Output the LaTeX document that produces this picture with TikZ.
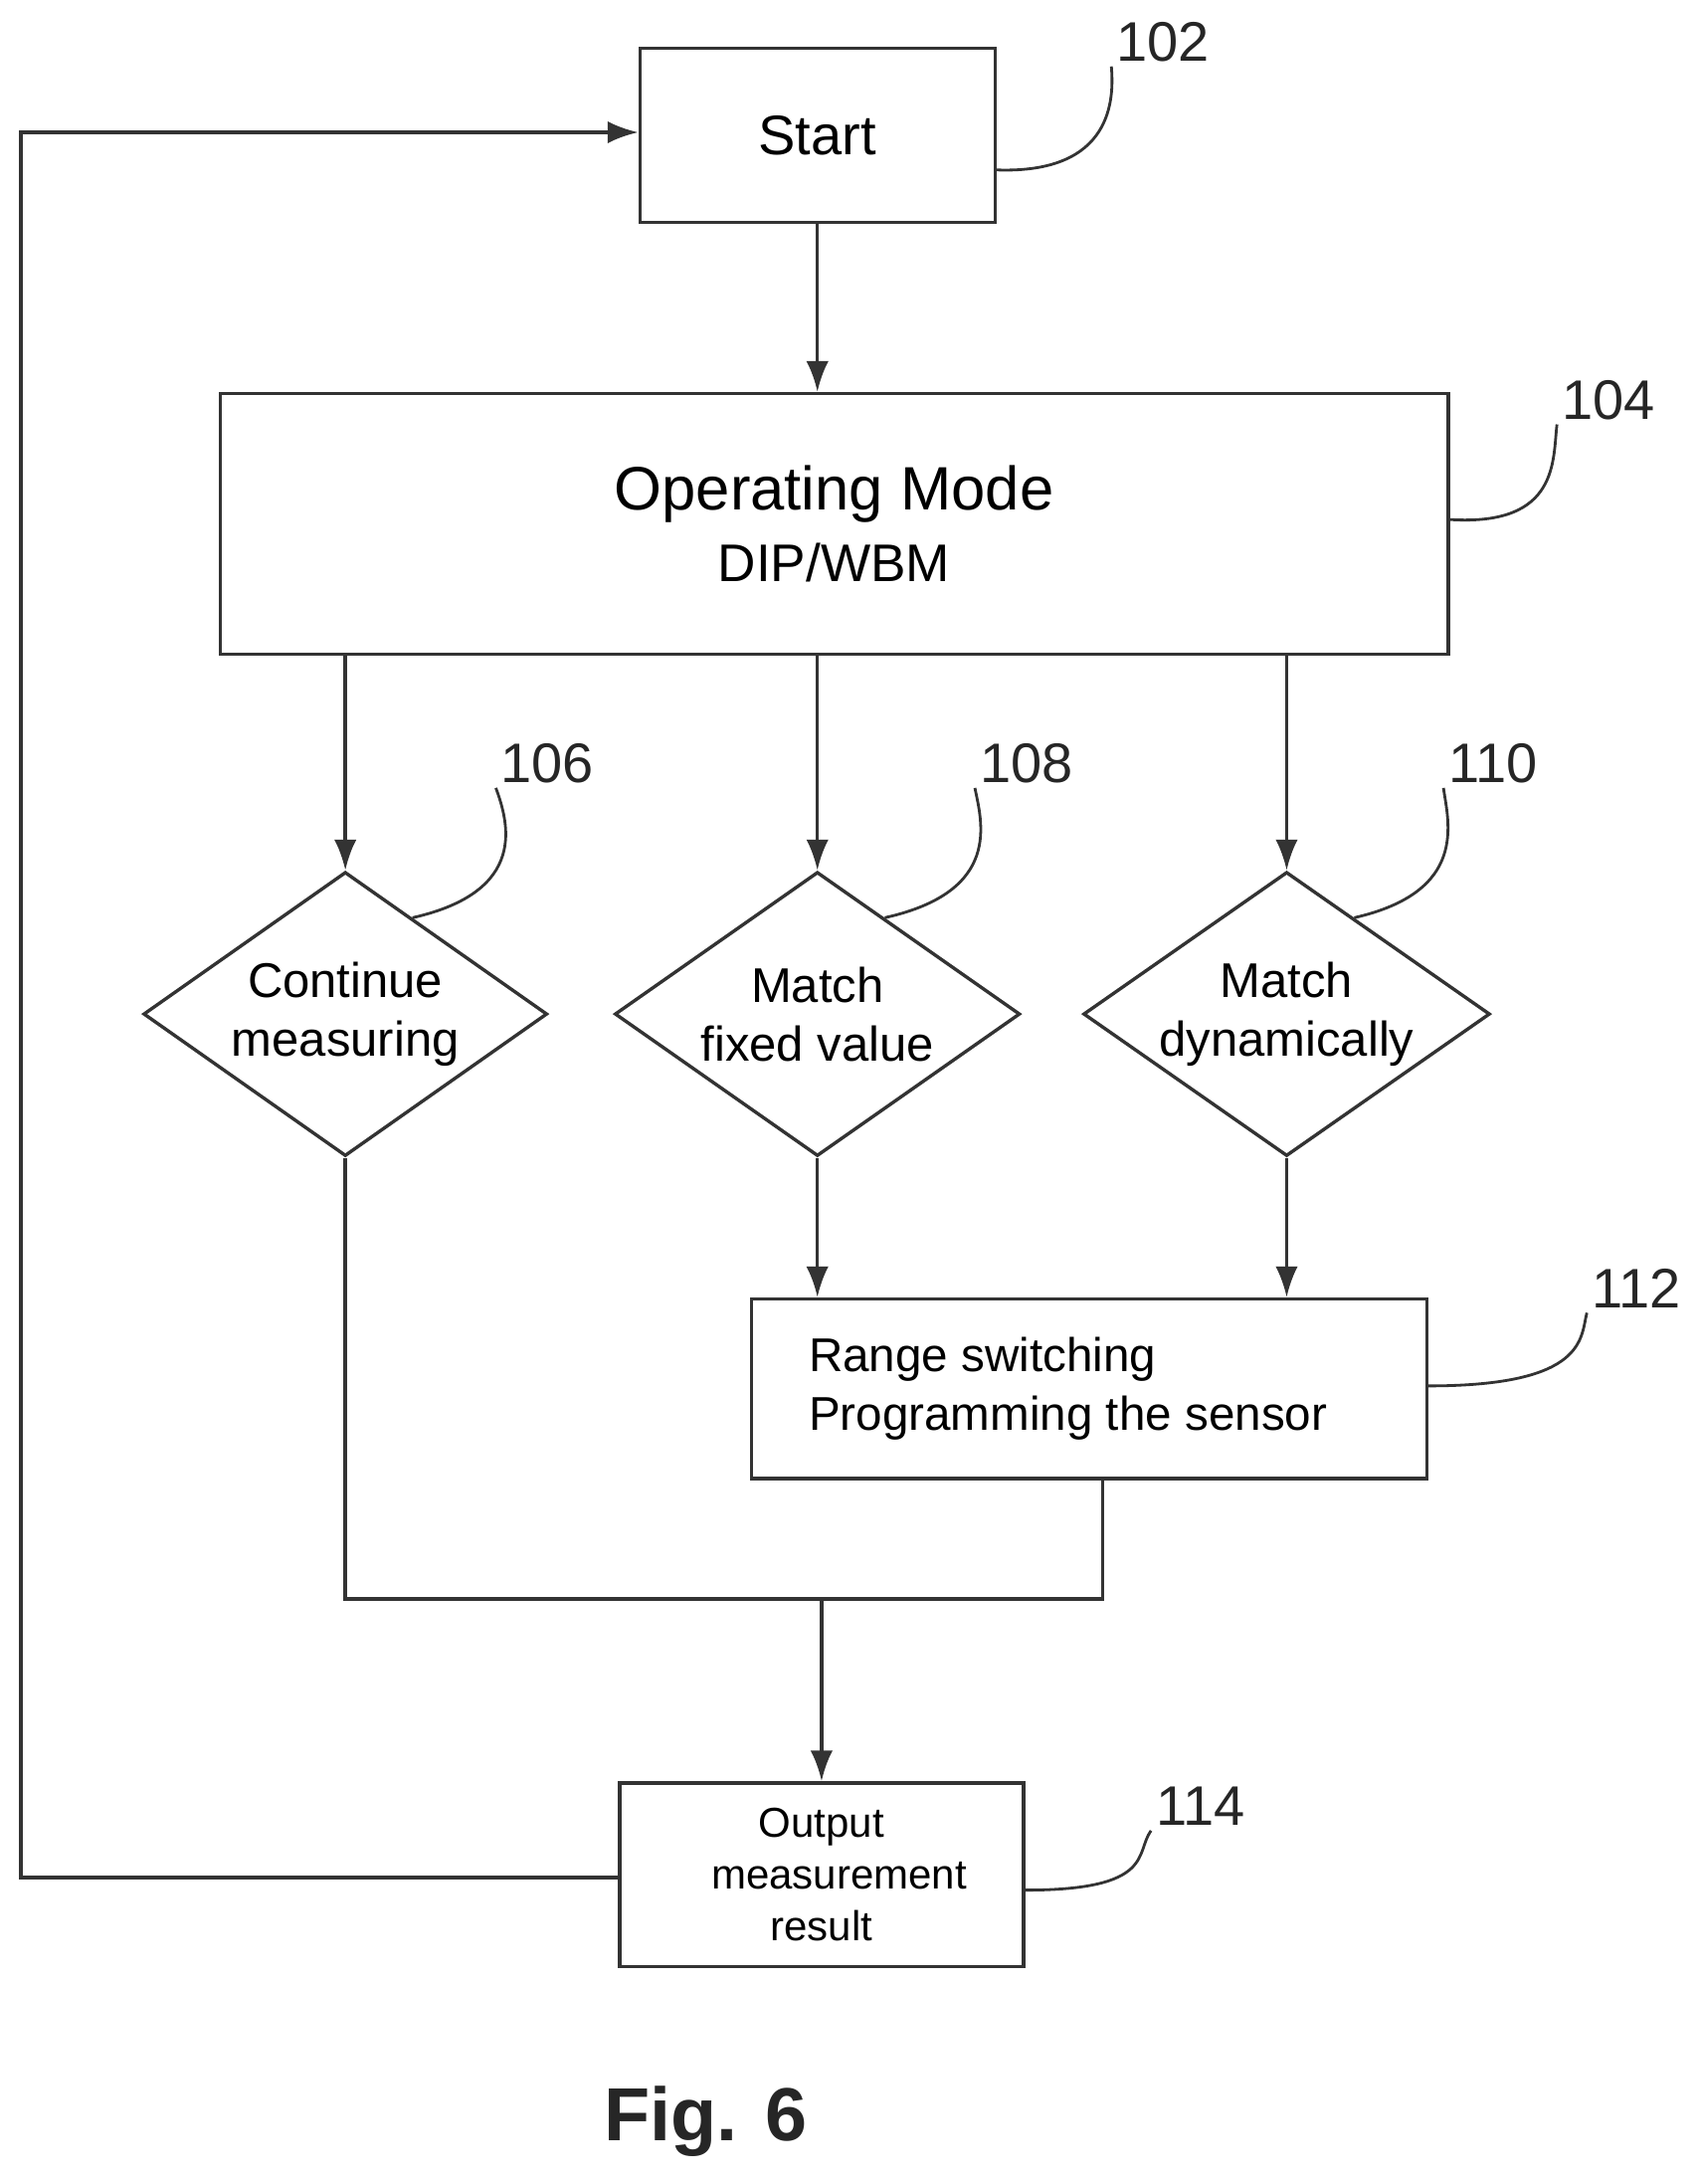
\documentclass[tikz,border=0pt]{standalone}
\usepackage{fontspec}
\setmainfont{Liberation Sans}
\usetikzlibrary{arrows.meta,positioning,shapes.geometric,calc}
\tikzset{
  line/.style={draw=black!80, line width=2.4pt},
  arr/.style={line, -{Latex[length=22pt,width=16pt]}},
  box/.style={line, rectangle, inner sep=0pt, align=center},
  dia/.style={line, diamond, inner sep=0pt, aspect=1.42, align=center},
  ref/.style={font=\fontsize{40}{44}\selectfont, text=black!85},
  lead/.style={draw=black!80, line width=2pt}
}
\begin{document}
\begin{tikzpicture}[x=1pt,y=-1pt]
	\useasboundingbox (0,0) rectangle (1220,1568);
	% boxes
	\node[box, minimum width=255pt, minimum height=125pt, font=\fontsize{40}{44}\selectfont] (start) at (587,97) {Start};
	\node[box, minimum width=882pt, minimum height=187pt, font=\fontsize{44}{52}\selectfont] (mode) at (599,376)
		{Operating Mode\\{\fontsize{38}{44}\selectfont DIP/WBM}};
	\node[dia, minimum width=290pt, minimum height=204pt, font=\fontsize{35}{42}\selectfont] (cont) at (248,728) {Continue\\measuring};
	\node[dia, minimum width=291pt, minimum height=204pt, font=\fontsize{35}{42}\selectfont] (fixed) at (587,728) {Match\\fixed value};
	\node[dia, minimum width=292pt, minimum height=204pt, font=\fontsize{35}{42}\selectfont] (dyn) at (924,728) {Match\\dynamically};
	\node[box, minimum width=485pt, minimum height=129pt, align=left, font=\fontsize{34}{42}\selectfont] (range) at (782,997)
		{Range switching\\Programming the sensor\hspace*{30pt}};
	\node[box, minimum width=290pt, minimum height=132pt, font=\fontsize{30}{37}\selectfont] (out) at (590,1346)
		{Output\\\hspace*{25pt}measurement\\result};
	\node[font=\fontsize{54}{60}\selectfont\bfseries, text=black!85] (fig) at (507,1523) {Fig. 6};
	% reference numerals
	\node[ref] (n102) at (835,30) {102};
	\node[ref] (n104) at (1155,287) {104};
	\node[ref] (n106) at (393,548) {106};
	\node[ref] (n108) at (737,548) {108};
	\node[ref] (n110) at (1072,548) {110};
	\node[ref] (n112) at (1175,925) {112};
	\node[ref] (n114) at (862,1297) {114};
	\draw[lead] (start.east |- 0,122) .. controls (800,125) and (800,70) .. (n102.south west);
	\draw[lead] (mode.east |- 0,373) .. controls (1120,378) and (1115,330) .. (n104.south west);
	\draw[lead] ($(cont.north)!0.33!(cont.east)$) .. controls (380,640) and (365,590) .. (n106.south west);
	\draw[lead] ($(fixed.north)!0.33!(fixed.east)$) .. controls (720,640) and (705,590) .. (n108.south west);
	\draw[lead] ($(dyn.north)!0.33!(dyn.east)$) .. controls (1055,640) and (1040,590) .. (n110.south west);
	\draw[lead] (range.east |- 0,995) .. controls (1140,995) and (1135,960) .. (n112.south west);
	\draw[lead] (out.east |- 0,1357) .. controls (830,1357) and (815,1330) .. (n114.south west);
	% connectors
	\draw[arr] (start.south) -- (start.south |- mode.north);
	\draw[arr] (mode.south -| cont.north) -- (cont.north);
	\draw[arr] (mode.south -| fixed.north) -- (fixed.north);
	\draw[arr] (mode.south -| dyn.north) -- (dyn.north);
	\draw[arr] (fixed.south) -- (fixed.south |- range.north);
	\draw[arr] (dyn.south) -- (dyn.south |- range.north);
	\coordinate (joinl) at (248,1148);
	\coordinate (joinr) at (792,1148);
	\draw[line] (cont.south) -- (joinl) -- (joinr) -- (range.south -| joinr);
	\draw[arr] (out.north |- joinl) -- (out.north);
	\coordinate (backb) at (15,1348);
	\coordinate (backt) at (15,95);
	\draw[arr] (out.west |- backb) -- (backb) -- (backt) -- (start.west |- backt);
\end{tikzpicture}
\end{document}
